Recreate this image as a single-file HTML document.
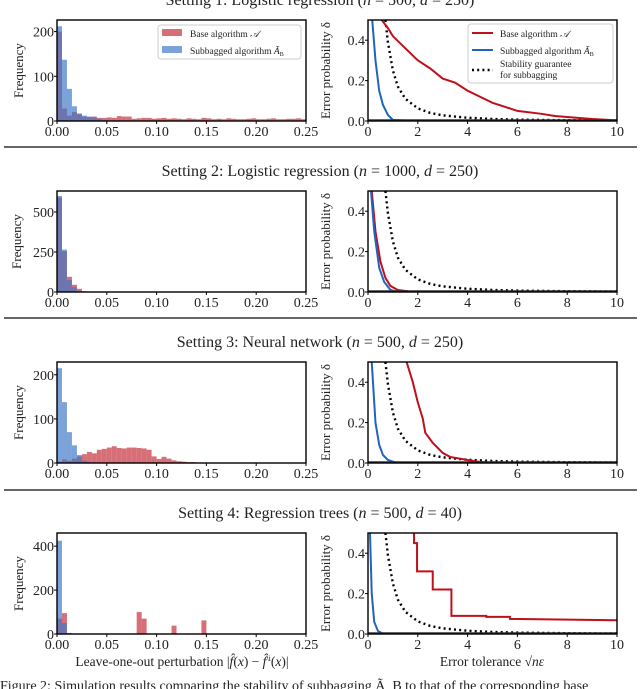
<!DOCTYPE html>
<html><head><meta charset="utf-8">
<style>
html,body{margin:0;padding:0;background:#fff;overflow:hidden}
svg{display:block;font-family:"Liberation Serif",serif}
</style></head>
<body>
<svg id="fig" width="640" height="689" viewBox="0 0 640 689" xmlns="http://www.w3.org/2000/svg"></svg>
<script>
// ---- data ----
const titles = [
  ["Setting 1: Logistic regression (","500","250)"],
  ["Setting 2: Logistic regression (","1000","250)"],
  ["Setting 3: Neural network (","500","250)"],
  ["Setting 4: Regression trees (","500","40)"]
];
const binWidth = 0.005;
const histRedS1 = [200,28,12,20,15,10,9,10,7,7,8,7,11,10,10,5,6,7,7,5,6,7,5,6,5,4,6,5,4,7,6,4,5,4,6,5,4,4,5,6,4,4,5,6,4,4,5,5,6,4];
const histBlueS1 = [212,137,72,33,17,12,10,8,5,2];
const histRedS2 = [590,255,95,45,20,5,2];
const histBlueS2 = [600,265,75,30,5,2];
const histRedS3 = [3,8,5,10,15,20,25,22,30,32,35,38,34,33,35,35,34,33,30,15,9,14,10,6,4,3,2,2,1];
const histBlueS3 = [215,138,70,40,18,5,2];
const histRedS4 = [70,95,0,0,0,0,0,0,0,0,0,0,0,0,0,0,100,70,0,0,0,0,0,38,0,0,0,0,0,62];
const histBlueS4 = [425,50,5,2];
const histYMax = [226, 631, 229, 460];
const histYTicks = [[0,100,200],[0,250,500],[0,100,200],[0,200,400]];
const histXTicks = [0,0.05,0.10,0.15,0.20,0.25];
const histXTickLabels = ["0.00","0.05","0.10","0.15","0.20","0.25"];

const curveXTicks = [0,2,4,6,8,10];
const curveYTicks = [0,0.2,0.4];
const curveYTickLabels = ["0.0","0.2","0.4"];
const guaranteeX = [0.7,0.8,1,1.2,1.5,2,2.5,3,4,5,6,8,10];
const guaranteeY = [0.5,0.39,0.25,0.17,0.11,0.0625,0.04,0.028,0.016,0.01,0.007,0.004,0.0025];
const redXS1 = [0.55,0.8,1,1.5,2,2.5,3,3.5,4,4.5,5,5.5,6,7,7.5,8,9,10];
const redYS1 = [0.5,0.46,0.42,0.36,0.3,0.26,0.21,0.19,0.15,0.12,0.09,0.07,0.05,0.035,0.025,0.02,0.01,0.003];
const blueXS1 = [0.17,0.3,0.45,0.6,0.8,1,2];
const blueYS1 = [0.5,0.3,0.15,0.08,0.03,0.005,0];
const redXS2 = [0.15,0.3,0.5,0.7,0.9,1.2,1.7];
const redYS2 = [0.5,0.3,0.15,0.07,0.03,0.01,0.002];
const blueXS2 = [0.12,0.25,0.45,0.65,0.9,1.2];
const blueYS2 = [0.5,0.3,0.12,0.05,0.01,0.001];
const redXS3 = [1.55,1.8,2,2.2,2.3,2.6,3,3.3,4,4.5,5];
const redYS3 = [0.5,0.4,0.3,0.22,0.15,0.1,0.05,0.03,0.015,0.005,0.001];
const blueXS3 = [0.15,0.3,0.45,0.6,0.8,1.1,1.7];
const blueYS3 = [0.5,0.2,0.09,0.04,0.015,0.003,0];
const redXS4 = [1.85,1.85,1.97,1.97,2.6,2.6,3.35,3.35,4.75,4.75,5.7,5.7,10];
const redYS4 = [0.5,0.45,0.45,0.31,0.31,0.22,0.22,0.09,0.09,0.085,0.085,0.075,0.068];
const blueXS4 = [0.08,0.15,0.25,0.4,0.6,1.2];
const blueYS4 = [0.5,0.2,0.06,0.015,0.002,0];

const histRed = [histRedS1,histRedS2,histRedS3,histRedS4];
const histBlue = [histBlueS1,histBlueS2,histBlueS3,histBlueS4];
const redX = [redXS1,redXS2,redXS3,redXS4], redY = [redYS1,redYS2,redYS3,redYS4];
const blueX = [blueXS1,blueXS2,blueXS3,blueXS4], blueY = [blueYS1,blueYS2,blueYS3,blueYS4];

// ---- layout ----
const NS = "http://www.w3.org/2000/svg";
const svg = document.getElementById('fig');
const axTops = [20,191,362,533];
const axH = 101;
const hL = 57, hR = 306, cL = 368, cR = 617;
function mk(tag, attrs, parent){
  const e = document.createElementNS(NS, tag);
  for (const k in attrs) e.setAttribute(k, attrs[k]);
  (parent||svg).appendChild(e);
  return e;
}
function txt(s, x, y, size, anchor, parent){
  const t = mk('text', {x:x, y:y, 'font-size':size, 'text-anchor':anchor||'middle', fill:'#222'}, parent);
  t.textContent = s;
  return t;
}

[147,318,490].forEach(function(y){
  const l = mk('line',{x1:4,x2:637,y1:y,y2:y,stroke:'#333','stroke-width':1.6});
  
  
});

for (let p = 0; p < 4; p++){
  const top = axTops[p], bot = top + axH;
  const g = mk('g',{});
  
  
  const t = mk('text',{x:320,y:top-15,'font-size':16,'text-anchor':'middle',fill:'#222'}, g);
  t.innerHTML = titles[p][0] + '<tspan font-style="italic">n</tspan> = ' + titles[p][1] + ', <tspan font-style="italic">d</tspan> = ' + titles[p][2];
  
  

  const hg = mk('g',{}, g);
  
  
  const xs = v => hL + v/0.25*(hR-hL);
  const ys = v => bot - v/histYMax[p]*axH;
  const drawBars = function(arr, color, name){
    arr.forEach(function(v, i){
      if (v <= 0) return;
      const x0 = xs(i*binWidth), x1 = xs((i+1)*binWidth);
      const r = mk('rect',{x:x0,y:ys(v),width:x1-x0,height:bot-ys(v),fill:color}, hg);
      
      
    });
  };
  drawBars(histRed[p], 'rgba(200,55,65,0.72)', 'base-algorithm');
  drawBars(histBlue[p], 'rgba(60,120,200,0.68)', 'subbagged-algorithm');
  const hb = mk('rect',{x:hL,y:top,width:hR-hL,height:axH,fill:'none',stroke:'#000','stroke-width':1.4}, hg);
  
  
  histXTicks.forEach(function(v,i){
    mk('line',{x1:xs(v),x2:xs(v),y1:bot,y2:bot+3,stroke:'#000'}, hg);
    const l = txt(histXTickLabels[i], xs(v), bot+15, 14, 'middle', hg);
    
    
  });
  histYTicks[p].forEach(function(v){
    mk('line',{x1:hL-3,x2:hL,y1:ys(v),y2:ys(v),stroke:'#000'}, hg);
    const l = txt(String(v), hL-3, ys(v)+5, 14, 'end', hg);
    
    
  });
  const yl = txt('Frequency', 0, 0, 13, 'middle', hg);
  yl.setAttribute('transform','translate('+(p==1?21:23)+','+(top+axH/2)+') rotate(-90)');
  
  

  const cg = mk('g',{}, g);
  
  
  const cx = v => cL + v/10*(cR-cL);
  const cy = v => bot - v/0.5*axH;
  const clipId = 'clip'+p;
  const cp = mk('clipPath',{id:clipId}, cg);
  mk('rect',{x:cL,y:top,width:cR-cL,height:axH}, cp);
  const line = function(X, Y, color, dash, name){
    let d = '';
    X.forEach(function(x,i){ d += (i? 'L':'M') + cx(x).toFixed(2) + ',' + cy(Y[i]).toFixed(2); });
    const a = {d:d, fill:'none', stroke:color, 'stroke-width':2, 'clip-path':'url(#'+clipId+')'};
    if (dash){ a['stroke-dasharray'] = '2,3.2'; a['stroke-width'] = 2.4; }
    const e = mk('path', a, cg);
    
    
  };
  line(guaranteeX, guaranteeY, '#000', true, 'stability-guarantee-line');
  line(redX[p], redY[p], '#c0101a', false, 'base-algorithm-line');
  line(blueX[p], blueY[p], '#2063c0', false, 'subbagged-algorithm-line');
  mk('line',{x1:cL,x2:cR,y1:bot-1,y2:bot-1,stroke:'#333','stroke-width':1.5}, cg);
  const cb = mk('rect',{x:cL,y:top,width:cR-cL,height:axH,fill:'none',stroke:'#000','stroke-width':1.4}, cg);
  
  
  curveXTicks.forEach(function(v){
    mk('line',{x1:cx(v),x2:cx(v),y1:bot,y2:bot+3,stroke:'#000'}, cg);
    const l = txt(String(v), cx(v), bot+15, 14, 'middle', cg);
    
    
  });
  curveYTicks.forEach(function(v,i){
    mk('line',{x1:cL-3,x2:cL,y1:cy(v),y2:cy(v),stroke:'#000'}, cg);
    const l = txt(curveYTickLabels[i], cL-3, cy(v)+5, 14, 'end', cg);
    
    
  });
  const cyl = txt('Error probability δ', 0, 0, 13, 'middle', cg);
  cyl.setAttribute('transform','translate(330,'+(top+axH/2)+') rotate(-90)');
  
  
}
</script>
<script>
(function(){
  const NS="http://www.w3.org/2000/svg", svg=document.getElementById('fig');
  function mk(tag,a,par){const e=document.createElementNS(NS,tag);for(const k in a)e.setAttribute(k,a[k]);(par||svg).appendChild(e);return e;}
  const lg = mk('g',{});
  
  
  mk('rect',{x:158,y:25,width:143,height:34,rx:3,fill:'#fff','fill-opacity':0.85,stroke:'#ccc'},lg);
  mk('rect',{x:162,y:29,width:20,height:7,fill:'rgba(200,55,65,0.72)'},lg);
  mk('rect',{x:162,y:46,width:20,height:7,fill:'rgba(60,120,200,0.68)'},lg);
  let t=mk('text',{x:190,y:37,'font-size':9.5,fill:'#222'},lg); t.innerHTML='Base algorithm <tspan font-style="italic">𝒜</tspan>';
  t=mk('text',{x:190,y:54,'font-size':9.5,fill:'#222'},lg); t.innerHTML='Subbagged algorithm <tspan font-style="italic">Ã</tspan><tspan font-size="6" dy="2">B</tspan>';

  const lg2 = mk('g',{});
  
  
  mk('rect',{x:468,y:24,width:145,height:59,rx:3,fill:'#fff','fill-opacity':0.85,stroke:'#ccc'},lg2);
  mk('line',{x1:472,x2:493,y1:33,y2:33,stroke:'#c0101a','stroke-width':2},lg2);
  mk('line',{x1:472,x2:493,y1:50,y2:50,stroke:'#2063c0','stroke-width':2},lg2);
  mk('line',{x1:472,x2:493,y1:70,y2:70,stroke:'#000','stroke-width':2.4,'stroke-dasharray':'2,3.2'},lg2);
  t=mk('text',{x:500,y:37,'font-size':9.5,fill:'#222'},lg2); t.innerHTML='Base algorithm <tspan font-style="italic">𝒜</tspan>';
  t=mk('text',{x:500,y:54,'font-size':9.5,fill:'#222'},lg2); t.innerHTML='Subbagged algorithm <tspan font-style="italic">Ã</tspan><tspan font-size="6" dy="2">B</tspan>';
  t=mk('text',{x:500,y:67,'font-size':9.5,fill:'#222'},lg2); t.textContent='Stability guarantee';
  t=mk('text',{x:500,y:78,'font-size':9.5,fill:'#222'},lg2); t.textContent='for subbagging';

  t=mk('text',{x:182,y:666,'font-size':13.5,'text-anchor':'middle',fill:'#222'});
  
  
  t.innerHTML='Leave-one-out perturbation |<tspan font-style="italic">f̂</tspan>(<tspan font-style="italic">x</tspan>) − <tspan font-style="italic">f̂</tspan><tspan font-size="8" dy="-5">\\i</tspan><tspan dy="5">(</tspan><tspan font-style="italic">x</tspan>)|';
  t=mk('text',{x:492,y:666,'font-size':13.5,'text-anchor':'middle',fill:'#222'});
  
  
  t.innerHTML='Error tolerance √<tspan font-style="italic">nε</tspan>';
  t=mk('text',{x:0,y:690,'font-size':14,fill:'#222'});
  
  
  t.textContent='Figure 2: Simulation results comparing the stability of subbagging Ã_B to that of the corresponding base';
})();
</script>
</body></html>
